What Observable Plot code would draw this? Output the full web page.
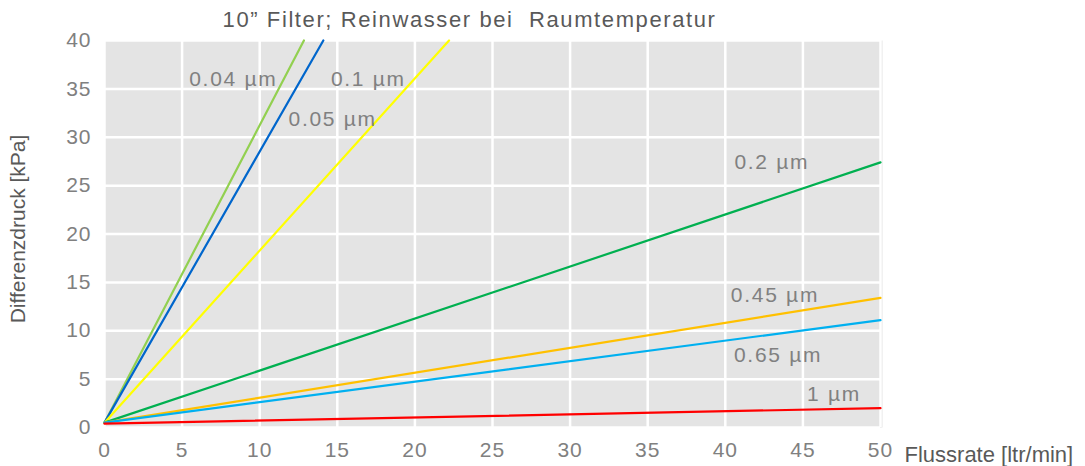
<!DOCTYPE html>
<html><head><meta charset="utf-8">
<script src="https://cdn.jsdelivr.net/npm/d3@7"></script>
<script src="https://cdn.jsdelivr.net/npm/@observablehq/plot@0.6"></script>
<style>
body{margin:0;background:#fff;}
svg{display:block;font-family:"Liberation Sans",Arial,sans-serif;}
</style>
</head><body><div id="chart"></div>
<script>
const series = ["0.04 µm","0.05 µm","0.1 µm","0.2 µm","0.45 µm","0.65 µm","1 µm"];
const colors = ["#92d050","#0066cc","#ffff00","#00b050","#ffc000","#00b0f0","#ff0000"];
const startFlow = [0,0,0,0,0,0,0];
const startPressure = [0.5,0.5,0.5,0.5,0.5,0.5,0.4];
const endFlow = [12.85,14.1,22.2,50,50,50,50];
const endPressure = [40,40,40,27.4,13.4,11.1,2.0];
const labelFlow = [8.3,14.7,17.0,43.0,43.2,43.4,47.0];
const labelPressure = [36,31.9,36,27.4,13.7,7.5,3.4];
const xTicks = [0,5,10,15,20,25,30,35,40,45,50];
const yTicks = [0,5,10,15,20,25,30,35,40];
const title = "10\u201D Filter; Reinwasser bei  Raumtemperatur";
const xLabel = "Flussrate [ltr/min]";
const yLabel = "Differenzdruck [kPa]";

const lineData = series.flatMap((s,i)=>[
  {s, c:colors[i], x:startFlow[i], y:startPressure[i]},
  {s, c:colors[i], x:endFlow[i], y:endPressure[i]}
]);
const labelData = series.map((s,i)=>({s, x:labelFlow[i], y:labelPressure[i]}));

const chart = Plot.plot({
  width:1085, height:466,
  marginLeft:104, marginRight:205, marginTop:40, marginBottom:39,
  style:{fontFamily:'"Liberation Sans",Arial,sans-serif', background:"#fff"},
  x:{domain:[0,50]},
  y:{domain:[0,40]},
  marks:[
    Plot.frame({fill:"#e4e4e4", stroke:null, insetRight:-2}),
    Plot.ruleX(xTicks,{stroke:"#fff", strokeWidth:2.5}),
    Plot.ruleY(yTicks,{stroke:"#fff", strokeWidth:2.5}),
    Plot.line(lineData,{x:"x", y:"y", z:"s", stroke:"c", strokeWidth:2.2}),
    Plot.text(labelData,{x:"x", y:"y", text:"s", fill:"#808080", fontSize:21}),
    Plot.axisX({ticks:xTicks, tickSize:0, tickPadding:15, fontSize:21, fill:"#808080", label:null}),
    Plot.axisY({ticks:yTicks, tickSize:0, tickPadding:13, fontSize:21, fill:"#808080", label:null}),
    Plot.text([title],{frameAnchor:"top", dx:-23, dy:-29, fontSize:22, fill:"#595959"}),
    Plot.text([xLabel],{frameAnchor:"bottom-right", textAnchor:"start", dx:24, dy:34, fontSize:22, fill:"#595959"}),
    Plot.text([yLabel],{frameAnchor:"left", textAnchor:"middle", rotate:-90, dx:-86, dy:-5, fontSize:21, fill:"#595959"})
  ]
});
d3.select(chart).selectAll("text").each(function(){
  const t = this.textContent;
  if (t === title) this.style.letterSpacing = "1.6px";
  else if (series.includes(t)) this.style.letterSpacing = "1.7px";
  else if (/^\d+$/.test(t)) this.style.letterSpacing = "1px";
});
document.getElementById("chart").appendChild(chart);
</script></body></html>
